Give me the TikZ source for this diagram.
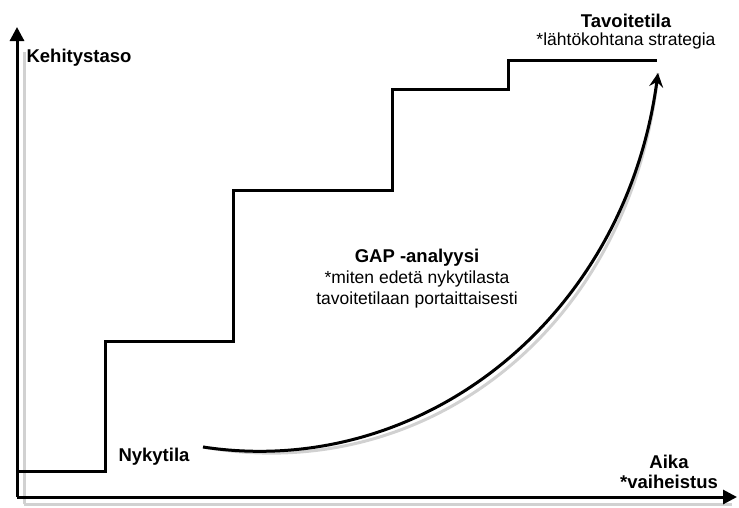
\documentclass[tikz,border=0pt]{standalone}
\usepackage{fontspec}
\setmainfont{Liberation Sans}
\usetikzlibrary{arrows.meta}
\begin{document}
\begin{tikzpicture}[x=1pt,y=-1pt,
  blackline/.style={line width=3pt,black},
  shadowline/.style={line width=3pt,black!18},
  lbl/.style={font=\fontsize{17.5}{20}\selectfont,inner sep=0pt,align=center},
  boldlbl/.style={lbl,font=\fontsize{18.5}{20}\selectfont\bfseries}]
\useasboundingbox (0,0) rectangle (739,507);
% coordinates
\coordinate (o) at (17,497);
\coordinate (ytop) at (17,27);
\coordinate (xend) at (737,497);
\coordinate (s0) at (17,471);
\coordinate (s1) at (105,471);
\coordinate (s2) at (105,341);
\coordinate (s3) at (233,341);
\coordinate (s4) at (233,190);
\coordinate (s5) at (392,190);
\coordinate (s6) at (392,89);
\coordinate (s7) at (508,89);
\coordinate (s8) at (508,60);
\coordinate (s9) at (657,60);
\coordinate (c0) at (203,447);
\coordinate (c1) at (658,73);
% shadows
\begin{scope}[shift={(7,7)}]
\draw[shadowline] (17,497) -- (17,45);
\draw[shadowline] (17,497) -- (725,497);
\draw[shadowline] (s0) -- (s1) -- (s2) -- (s3) -- (s4) -- (s5) -- (s6) -- (s7) -- (s8) -- (s9);
\draw[shadowline] (c0) .. controls (420,480) and (625,320) .. (c1);
\end{scope}
% axes
\draw[blackline,-{Triangle[length=14pt,width=14pt]}] (o) -- (ytop);
\draw[blackline,-{Triangle[length=14pt,width=14pt]}] (o) -- (xend);
% stairs
\draw[blackline,line join=miter] (s0) -- (s1) -- (s2) -- (s3) -- (s4) -- (s5) -- (s6) -- (s7) -- (s8) -- (s9);
% curve
\draw[blackline,-{Stealth[length=14pt,width=14pt,inset=5pt]}] (c0) .. controls (420,480) and (625,320) .. (c1);
% labels
\node[boldlbl] (kehitys) at (79,58) {Kehitystaso};
\node[boldlbl] (tavoite) at (626,21) {Tavoitetila};
\node[lbl] (lahto) at (626,41) {*lähtökohtana strategia};
\node[boldlbl] (gap) at (417,258) {GAP -analyysi};
\node[lbl] (gap2) at (417,279) {*miten edetä nykytilasta};
\node[lbl] (gap3) at (417,300) {tavoitetilaan portaittaisesti};
\node[boldlbl] (nyky) at (154,457) {Nykytila};
\node[boldlbl] (aika) at (669,462) {Aika};
\node[boldlbl] (vaihe) at (669,482) {*vaiheistus};
\end{tikzpicture}
\end{document}
